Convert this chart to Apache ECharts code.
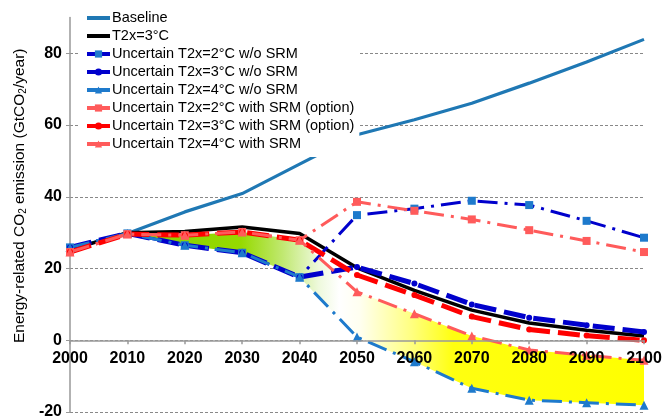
<!DOCTYPE html>
<html>
<head>
<meta charset="utf-8">
<script src="https://cdn.jsdelivr.net/npm/echarts@6/dist/echarts.min.js"></script>
<style>
  html, body { margin: 0; padding: 0; background: #fff; }
  #chart { width: 672px; height: 420px; }
</style>
</head>
<body>
<div id="chart"></div>
<script>
// Energy-related CO2 emission pathways (GtCO2/year), 2000-2100
const years = ['2000', '2010', '2020', '2030', '2040', '2050', '2060', '2070', '2080', '2090', '2100'];

const baseline   = [25.5, 29.8, 35.8, 40.9, 49.1, 57.3, 61.5, 66.1, 71.7, 77.6, 83.9];
const t2x3       = [25.2, 30.0, 30.3, 31.6, 29.8, 20.2, 13.9, 8.4, 4.8, 2.8, 1.2];
const unc2NoSrm  = [25.9, 29.8, 26.5, 24.4, 17.6, 34.9, 36.7, 38.9, 37.7, 33.3, 28.6];
const unc3NoSrm  = [25.9, 29.8, 26.5, 24.4, 17.6, 20.4, 15.8, 10.0, 6.3, 4.2, 2.3];
const unc4NoSrm  = [25.9, 29.8, 26.5, 24.4, 17.6, 0.9, -6.0, -13.4, -16.7, -17.4, -18.1];
const unc2Srm    = [24.6, 29.6, 29.3, 30.2, 27.9, 38.6, 36.1, 33.7, 30.7, 27.7, 24.6];
const unc3Srm    = [24.6, 29.6, 29.3, 30.2, 27.9, 18.2, 12.6, 6.6, 3.0, 1.3, 0.0];
const unc4Srm    = [24.6, 29.6, 29.3, 30.2, 27.9, 13.5, 7.4, 1.2, -2.7, -4.2, -5.6];

const yTicks = [-20, 0, 20, 40, 60, 80];

// Band between the 4°C paths with and without SRM, from 2010 on
const bandStart = 1;
const bandLow = unc4NoSrm.map((v, i) => i < bandStart ? '-' : v);
const bandSpan = unc4Srm.map((v, i) => i < bandStart ? '-' : +(v - unc4NoSrm[i]).toFixed(2));

const FONT = '"Liberation Sans", Arial, sans-serif';
const DARK_BLUE = '#0000CC';
const MID_BLUE = '#1E7ACC';
const SALMON = '#FF5B5B';
const RED = '#FF0000';
const DASH_DOT = [20, 7, 3, 7];
const LONG_DASH = [22, 8];

const Y_MIN = -20, Y_MAX = 90;
const GRID = { left: 70, right: 28, top: 17.5, bottom: 8 };
const chartHeight = 420;
// Pull the category axis up to the zero line of the value axis
const plotHeight = chartHeight - GRID.top - GRID.bottom;
const zeroOffset = -plotHeight * (0 - Y_MIN) / (Y_MAX - Y_MIN);

const chart = echarts.init(document.getElementById('chart'), null, { renderer: 'canvas' });

function lineSeries(name, data, color, opts) {
  return Object.assign({
    name: name,
    type: 'line',
    data: data,
    symbol: 'none',
    z: 3,
    lineStyle: { color: color, width: 3 },
    itemStyle: { color: color },
    emphasis: { disabled: true },
    animation: false
  }, opts || {});
}

const option = {
  animation: false,
  backgroundColor: '#fff',
  textStyle: { fontFamily: FONT },
  grid: Object.assign({ containLabel: false }, GRID),
  legend: {
    orient: 'vertical',
    left: 80,
    top: 5,
    padding: [5, 5, 5, 5],
    backgroundColor: '#fff',
    itemWidth: 23,
    itemHeight: 9,
    itemGap: 2,
    textStyle: { fontFamily: FONT, fontSize: 14.5, color: '#000', lineHeight: 16, padding: [0, 0, 0, -3] },
    lineStyle: { type: 'solid', width: 4 },
    data: [
      { name: 'Baseline', itemStyle: { opacity: 0 } },
      { name: 'T2x=3°C', itemStyle: { opacity: 0 } },
      'Uncertain T2x=2°C w/o SRM', 'Uncertain T2x=3°C w/o SRM', 'Uncertain T2x=4°C w/o SRM',
      'Uncertain T2x=2°C with SRM (option)', 'Uncertain T2x=3°C with SRM (option)', 'Uncertain T2x=4°C with SRM'
    ]
  },
  xAxis: {
    type: 'category',
    data: years,
    boundaryGap: false,
    position: 'bottom',
    offset: zeroOffset,
    z: 10,
    axisLine: { onZero: false, lineStyle: { color: '#999', width: 1.5 } },
    axisTick: { show: true, length: 4, lineStyle: { color: '#999', width: 1.5 } },
    axisLabel: { fontFamily: FONT, fontSize: 16, fontWeight: 'bold', color: '#000', margin: 10 },
    splitLine: { show: false }
  },
  yAxis: {
    type: 'value',
    min: Y_MIN,
    max: Y_MAX,
    interval: 20,
    name: 'Energy-related CO{s|2} emission (GtCO{s|2}/year)',
    nameLocation: 'middle',
    nameGap: 41,
    nameRotate: 90,
    nameTextStyle: {
      fontFamily: FONT, fontSize: 15.5, color: '#000',
      padding: [0, 0, 0, 38],
      rich: { s: { fontFamily: FONT, fontSize: 10, color: '#000', padding: [7, 0, 0, 0] } }
    },
    axisLine: { show: true, lineStyle: { color: '#999', width: 1.5 } },
    axisTick: { show: true, length: 4, lineStyle: { color: '#999' } },
    axisLabel: {
      fontFamily: FONT, fontSize: 16, fontWeight: 'bold', color: '#000', margin: 8,
      showMaxLabel: false,
      formatter: v => (yTicks.indexOf(v) >= 0 ? String(v) : '')
    },
    splitLine: {
      show: true,
      showMaxLine: false,
      lineStyle: { color: '#888', type: [3, 2], width: 1 }
    }
  },
  series: [
    {
      name: 'bandLow', type: 'line', stack: 'band', stackStrategy: 'all',
      data: bandLow, symbol: 'none', silent: true, z: 1,
      lineStyle: { width: 0, opacity: 0 }, emphasis: { disabled: true }
    },
    {
      name: 'bandSpan', type: 'line', stack: 'band', stackStrategy: 'all',
      data: bandSpan, symbol: 'none', silent: true, z: 1,
      lineStyle: { width: 0, opacity: 0 }, emphasis: { disabled: true },
      areaStyle: {
        opacity: 1,
        color: new echarts.graphic.LinearGradient(0, 0, 1, 0, [
          { offset: 0.00, color: '#88D000' },
          { offset: 0.22, color: '#96DA00' },
          { offset: 0.30, color: '#C0E870' },
          { offset: 0.37, color: '#EEF9DC' },
          { offset: 0.41, color: '#FFFFFF' },
          { offset: 0.45, color: '#FFFFF0' },
          { offset: 0.55, color: '#FFFF80' },
          { offset: 0.63, color: '#FFFF10' },
          { offset: 1.00, color: '#FFFF00' }
        ])
      }
    },
    lineSeries('Baseline', baseline, '#1F78B4', { lineStyle: { color: '#1F78B4', width: 3.2 } }),
    lineSeries('T2x=3°C', t2x3, '#000000', { lineStyle: { color: '#000', width: 3.5 } }),
    lineSeries('Uncertain T2x=2°C w/o SRM', unc2NoSrm, DARK_BLUE, {
      symbol: 'rect', symbolSize: 8, showSymbol: true, showAllSymbol: true,
      itemStyle: { color: MID_BLUE },
      lineStyle: { color: DARK_BLUE, width: 3, type: DASH_DOT }
    }),
    lineSeries('Uncertain T2x=3°C w/o SRM', unc3NoSrm, DARK_BLUE, {
      symbol: 'circle', symbolSize: 6, showSymbol: true, showAllSymbol: true,
      itemStyle: { color: DARK_BLUE },
      lineStyle: { color: DARK_BLUE, width: 5, type: LONG_DASH }
    }),
    lineSeries('Uncertain T2x=4°C w/o SRM', unc4NoSrm, MID_BLUE, {
      symbol: 'triangle', symbolSize: 9, showSymbol: true, showAllSymbol: true,
      itemStyle: { color: MID_BLUE },
      lineStyle: { color: MID_BLUE, width: 3, type: DASH_DOT }
    }),
    lineSeries('Uncertain T2x=2°C with SRM (option)', unc2Srm, SALMON, {
      symbol: 'rect', symbolSize: 8, showSymbol: true, showAllSymbol: true,
      itemStyle: { color: SALMON },
      lineStyle: { color: SALMON, width: 3, type: DASH_DOT }
    }),
    lineSeries('Uncertain T2x=3°C with SRM (option)', unc3Srm, RED, {
      symbol: 'circle', symbolSize: 6, showSymbol: true, showAllSymbol: true,
      itemStyle: { color: RED },
      lineStyle: { color: RED, width: 5, type: LONG_DASH }
    }),
    lineSeries('Uncertain T2x=4°C with SRM', unc4Srm, SALMON, {
      symbol: 'triangle', symbolSize: 9, showSymbol: true, showAllSymbol: true,
      itemStyle: { color: SALMON },
      lineStyle: { color: SALMON, width: 3, type: DASH_DOT }
    })
  ]
};

chart.setOption(option);
</script>
</body>
</html>
